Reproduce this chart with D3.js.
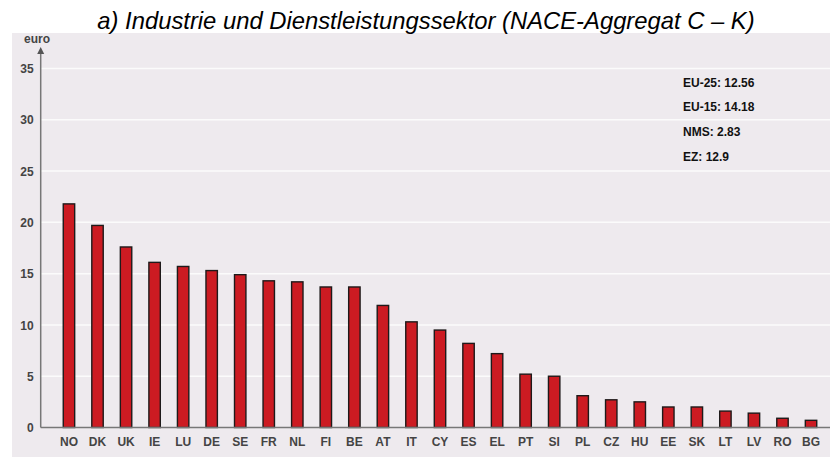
<!DOCTYPE html>
<html>
<head>
<meta charset="utf-8">
<script src="https://cdn.jsdelivr.net/npm/d3@7"></script>
<style>
  body { margin: 0; background: #fff; }
  svg { display: block; }
  .tick-label { font: bold 12px "Liberation Sans", Arial, sans-serif; fill: #444; }
</style>
</head>
<body>
<svg id="chart" width="830" height="457"></svg>
<script>
// chart data
const countries = ['NO', 'DK', 'UK', 'IE', 'LU', 'DE', 'SE', 'FR', 'NL', 'FI', 'BE', 'AT', 'IT',
  'CY', 'ES', 'EL', 'PT', 'SI', 'PL', 'CZ', 'HU', 'EE', 'SK', 'LT', 'LV', 'RO', 'BG'];
const values = [21.8, 19.7, 17.6, 16.1, 15.7, 15.3, 14.9, 14.3, 14.2, 13.7, 13.7, 11.9, 10.3,
  9.5, 8.2, 7.2, 5.2, 5.0, 3.1, 2.7, 2.5, 2.0, 2.0, 1.6, 1.4, 0.9, 0.7];
const yTicks = [0, 5, 10, 15, 20, 25, 30, 35];
const notes = ['EU-25: 12.56', 'EU-15: 14.18', 'NMS: 2.83', 'EZ: 12.9'];
const titleText = 'a) Industrie und Dienstleistungssektor (NACE-Aggregat C \u2013 K)';

const svg = d3.select('#chart');
const axisX = 40.7;
const plotRight = 830;

// plot background
svg.append('rect')
  .attr('x', 12).attr('y', 33)
  .attr('width', 818).attr('height', 424)
  .attr('fill', '#eeeaee');

// title
svg.append('text')
  .attr('x', 426).attr('y', 29)
  .attr('text-anchor', 'middle')
  .style('font', 'italic 23.8px "Liberation Sans", Arial, sans-serif')
  .attr('fill', '#000')
  .text(titleText);

const y = d3.scaleLinear().domain([0, 35]).range([427.5, 68.5]);
const x = d3.scaleBand()
  .domain(countries)
  .range([54.7, 825.3])
  .paddingInner(0.6)
  .paddingOuter(0.3);

// gridlines
svg.append('g')
  .selectAll('line')
  .data(yTicks.filter(d => d > 0))
  .enter()
  .append('line')
  .attr('x1', axisX).attr('x2', plotRight)
  .attr('y1', d => y(d)).attr('y2', d => y(d))
  .attr('stroke', '#fbfbfb')
  .attr('stroke-width', 1.5);

// y axis, ticks only as labels
const yAxis = d3.axisLeft(y).tickValues(yTicks).tickSize(0).tickPadding(8);
const gy = svg.append('g')
  .attr('transform', `translate(${axisX},0)`)
  .call(yAxis);
gy.select('.domain').remove();
gy.selectAll('text').attr('class', 'tick-label').attr('x', -7).attr('dy', '0.35em');

// bars
svg.append('g')
  .selectAll('rect')
  .data(countries)
  .enter()
  .append('rect')
  .attr('x', d => x(d))
  .attr('y', (d, i) => y(values[i]))
  .attr('width', x.bandwidth())
  .attr('height', (d, i) => y(0) - y(values[i]))
  .attr('fill', '#cc1b22')
  .attr('stroke', '#1e1a1a')
  .attr('stroke-width', 1.4);

// x axis
const xAxis = d3.axisBottom(x).tickSize(0).tickPadding(10);
const gx = svg.append('g')
  .attr('transform', `translate(0,${y(0)})`)
  .call(xAxis);
gx.select('.domain').remove();
gx.selectAll('text').attr('class', 'tick-label').attr('fill', '#555');

// axis lines
svg.append('line')
  .attr('x1', axisX).attr('x2', plotRight)
  .attr('y1', y(0)).attr('y2', y(0))
  .attr('stroke', '#777').attr('stroke-width', 1.5);
svg.append('line')
  .attr('x1', axisX).attr('x2', axisX)
  .attr('y1', y(0)).attr('y2', 52)
  .attr('stroke', '#777').attr('stroke-width', 1.5);
svg.append('path')
  .attr('d', `M${axisX - 3.5},54 L${axisX},47 L${axisX + 3.5},54 Z`)
  .attr('fill', '#555');

svg.append('text')
  .attr('x', 24).attr('y', 43)
  .attr('class', 'tick-label')
  .style('font-size', '12px')
  .text('euro');

// average notes
svg.append('g')
  .selectAll('text')
  .data(notes)
  .enter()
  .append('text')
  .attr('x', 683)
  .attr('y', (d, i) => 86.5 + i * 24.7)
  .style('font', 'bold 12px "Liberation Sans", Arial, sans-serif')
  .attr('fill', '#111')
  .text(d => d);
</script>
</body>
</html>
